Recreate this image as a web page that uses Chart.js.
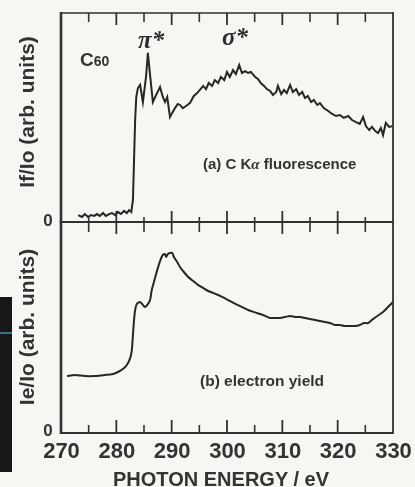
<!DOCTYPE html>
<html>
<head>
<meta charset="utf-8">
<script src="https://cdn.jsdelivr.net/npm/chart.js@4.4.1/dist/chart.umd.min.js"></script>
<style>
  html, body { margin: 0; padding: 0; background: #f7f6f2; }
  #wrap { position: relative; width: 415px; height: 487px; overflow: hidden;
          font-family: "Liberation Sans", Arial, sans-serif; color: #333; }
  canvas { position: absolute; left: 0; top: 0; }
  .t { position: absolute; white-space: nowrap; font-weight: bold; line-height: 1; }
  .rot { transform: translate(-50%, -50%) rotate(-90deg); font-size: 21px; }
  .greek { font-family: "Liberation Serif", "DejaVu Serif", serif; font-style: italic; font-weight: bold; font-size: 25px; color: #2e2e2e; }
  #strip { position: absolute; left: 0; top: 297px; width: 12px; height: 175px; background: #161718; }
  #strip i { position: absolute; left: 0; top: 35px; width: 12px; height: 2px; background: #3f6f86; }
</style>
</head>
<body>
<div id="wrap">
  <div id="strip"><i></i></div>
  <canvas id="top" width="415" height="487"></canvas>
  <canvas id="bot" width="415" height="487"></canvas>

  <div class="t rot" style="left:26px; top:112px;">If/Io (arb. units)</div>
  <div class="t rot" style="left:26px; top:327px;">Ie/Io (arb. units)</div>

  <div class="t" style="left:80px; top:50px; font-size:19px;">C<span style="font-size:14px;">60</span></div>
  <div class="t greek" style="left:138px; top:27px;">π*</div>
  <div class="t greek" style="left:222px; top:24px;">σ*</div>
  <div class="t" style="left:203px; top:156px; font-size:15px;">(a) C K<span style="font-family:'Liberation Serif',serif; font-style:italic;">α</span> fluorescence</div>
  <div class="t" style="left:200px; top:373px; font-size:15.5px;">(b) electron yield</div>
  <div class="t" style="left:221px; top:469px; font-size:20px; transform:translateX(-50%);">PHOTON ENERGY / eV</div>
</div>

<script>
// (a) C K-alpha fluorescence yield, If/Io
const energyA = [273.1, 273.8, 274.3, 274.9, 275.4, 276.0, 276.5, 277.0, 277.6, 278.1, 278.7, 279.2, 279.8,
  280.3, 280.8, 281.4, 281.9, 282.3, 282.7, 283.0, 283.2, 283.4, 283.6, 283.9, 284.3, 284.8, 285.4, 285.7,
  286.1, 286.6, 287.2, 287.9, 288.4, 288.8, 289.2, 289.7, 290.1, 290.6, 291.1, 291.5, 292.0, 292.6, 293.3,
  294.0, 294.6, 295.1, 295.7, 296.2, 296.7, 297.3, 297.8, 298.4, 298.9, 299.5, 300.0, 300.5, 301.1, 301.6,
  302.2, 302.7, 303.3, 303.8, 304.3, 305.1, 305.6, 306.1, 306.7, 307.2, 307.8, 308.3, 308.9, 309.2, 309.8,
  310.3, 310.8, 311.4, 311.9, 312.5, 313.0, 313.6, 314.1, 314.6, 315.2, 315.7, 316.3, 316.8, 317.5, 318.3,
  319.0, 319.7, 320.4, 321.1, 321.9, 322.6, 323.3, 324.0, 324.6, 325.1, 325.7, 326.2, 326.8, 327.3, 327.8,
  328.2, 328.7, 329.3, 330.0];
const fluorescence = [3.3, 2.4, 3.8, 2.4, 3.3, 2.9, 3.8, 2.9, 4.3, 2.9, 3.8, 4.3, 3.3,
  4.8, 3.8, 5.3, 4.3, 5.7, 4.8, 10.5, 29.7, 48.8, 59.8, 64.1, 65.6, 57.4, 70.3, 80.9,
  70.3, 57.4, 60.8, 64.6, 59.8, 57.4, 59.8, 50.2, 52.2, 54.5, 56.5, 56.0, 54.5, 55.5, 56.9,
  60.3, 61.7, 63.2, 65.1, 63.6, 66.5, 65.1, 67.9, 66.5, 69.4, 67.9, 71.8, 69.4, 72.7, 70.8,
  75.1, 71.3, 72.2, 71.3, 71.8, 69.4, 68.4, 66.5, 65.1, 63.6, 62.7, 60.8, 62.2, 65.1, 61.2,
  63.2, 61.7, 65.6, 62.2, 63.6, 60.8, 62.2, 59.3, 60.3, 57.4, 58.4, 56.0, 56.9, 54.5, 53.1,
  51.7, 50.7, 51.2, 49.8, 50.7, 48.8, 47.8, 46.9, 50.2, 45.9, 44.0, 45.5, 43.5, 42.6, 45.0,
  41.6, 47.4, 45.5, 45.9];

// (b) total electron yield, Ie/Io
const energyB = [271.1, 272.5, 274.3, 276.1, 278.0, 279.4, 280.3, 281.2, 281.9, 282.5, 282.8, 283.0, 283.2,
  283.4, 283.7, 284.3, 284.8, 285.2, 285.7, 286.1, 286.4, 286.8, 287.4, 287.9, 288.4, 288.8, 289.0, 289.3,
  289.7, 290.1, 290.4, 291.0, 291.5, 292.2, 293.0, 293.9, 294.8, 295.7, 296.6, 297.5, 298.4, 299.5, 300.5,
  301.6, 302.7, 303.8, 304.9, 306.0, 306.9, 307.8, 308.7, 309.6, 310.5, 311.4, 312.3, 313.2, 314.1, 315.0,
  315.9, 316.8, 317.7, 318.6, 319.5, 320.4, 321.3, 322.2, 323.1, 324.0, 324.8, 325.5, 326.2, 326.9, 327.7,
  328.4, 329.1, 330.0];
const electronYield = [27.0, 27.5, 27.0, 27.0, 27.5, 28.0, 28.9, 30.3, 32.2, 35.5, 39.3, 46.4, 53.6,
  58.3, 61.1, 62.1, 60.7, 59.7, 61.1, 63.0, 67.8, 71.6, 77.3, 81.5, 84.4, 84.8, 83.4, 84.8,
  85.3, 85.3, 83.4, 81.0, 78.7, 76.3, 73.9, 72.0, 70.1, 68.7, 67.3, 66.4, 65.4, 64.0, 62.6,
  61.1, 59.7, 58.3, 57.3, 56.4, 55.5, 54.5, 54.5, 54.5, 55.0, 55.5, 55.0, 55.0, 54.5, 54.0,
  53.6, 53.1, 52.6, 52.1, 51.2, 51.2, 50.7, 50.7, 50.7, 51.2, 52.1, 52.1, 53.6, 55.0, 56.4,
  57.8, 59.7, 62.1];

const xTickLabels = [270, 280, 290, 300, 310, 320, 330];
const xMinorTicks = [275, 285, 295, 305, 315, 325];

const INK = '#313131';

function pts(xs, ys) {
  return xs.map((x, i) => ({ x: x, y: ys[i] }));
}

// frame, ticks and tick labels, drawn from the chart's own scales
const framePlugin = {
  id: 'frame',
  afterDraw(chart, args, opts) {
    const ctx = chart.ctx;
    const a = chart.chartArea;
    const x = chart.scales.x;
    const y = chart.scales.y;
    ctx.save();
    ctx.strokeStyle = INK;
    ctx.lineCap = 'butt';

    const line = (x1, y1, x2, y2, w) => {
      ctx.lineWidth = w;
      ctx.beginPath();
      ctx.moveTo(x1, y1);
      ctx.lineTo(x2, y2);
      ctx.stroke();
    };

    // left and right borders
    line(a.left, a.top - 1, a.left, a.bottom + 1, 2.6);
    line(a.right, a.top - 1, a.right, a.bottom + 1, 1.8);

    if (opts.panel === 'top') {
      line(a.left, a.top, a.right, a.top, 1.6);
      line(a.left, a.bottom, a.right, a.bottom, 2);
      xTickLabels.slice(1, -1).forEach(v => {
        const px = x.getPixelForValue(v);
        line(px, a.top, px, a.top + 12, 1.8);
        line(px, a.bottom - 11, px, a.bottom + 12, 1.8);
      });
      xMinorTicks.forEach(v => {
        const px = x.getPixelForValue(v);
        line(px, a.top, px, a.top + 9, 1.6);
        line(px, a.bottom - 5, px, a.bottom + 10, 1.6);
      });
    } else {
      line(a.left, a.bottom, a.right, a.bottom, 2.2);
      xTickLabels.slice(1, -1).forEach(v => {
        const px = x.getPixelForValue(v);
        line(px, a.bottom, px, a.bottom - 13, 1.8);
      });
      xMinorTicks.forEach(v => {
        const px = x.getPixelForValue(v);
        line(px, a.bottom, px, a.bottom - 8, 1.6);
      });
      ctx.fillStyle = '#333';
      ctx.font = 'bold 22px "Liberation Sans", Arial, sans-serif';
      ctx.textAlign = 'center';
      ctx.textBaseline = 'middle';
      xTickLabels.forEach(v => {
        ctx.fillText(String(v), x.getPixelForValue(v) + 0.5, a.bottom + 19);
      });
    }

    // the "0" of the y axis
    ctx.fillStyle = '#333';
    ctx.font = 'bold 17px "Liberation Sans", Arial, sans-serif';
    ctx.textAlign = 'center';
    ctx.textBaseline = 'middle';
    ctx.fillText('0', a.left - 13, y.getPixelForValue(0) - (opts.panel === 'top' ? 1 : 2));
    ctx.restore();
  }
};

function makeChart(id, data, padTop, padBottom, panel) {
  return new Chart(document.getElementById(id).getContext('2d'), {
    type: 'line',
    data: {
      datasets: [{
        data: data,
        borderColor: '#262626',
        borderWidth: 2,
        pointRadius: 0,
        tension: panel === 'top' ? 0 : 0.25,
        fill: false
      }]
    },
    options: {
      responsive: false,
      animation: false,
      events: [],
      layout: { padding: { left: 61, right: 22, top: padTop, bottom: padBottom } },
      plugins: {
        legend: { display: false },
        tooltip: { enabled: false },
        frame: { panel: panel }
      },
      scales: {
        x: { type: 'linear', min: 270, max: 330, display: false },
        y: { type: 'linear', min: 0, max: 100, display: false }
      }
    },
    plugins: [framePlugin]
  });
}

makeChart('top', pts(energyA, fluorescence), 13, 265, 'top');
makeChart('bot', pts(energyB, electronYield), 222, 54, 'bottom');
</script>
</body>
</html>
